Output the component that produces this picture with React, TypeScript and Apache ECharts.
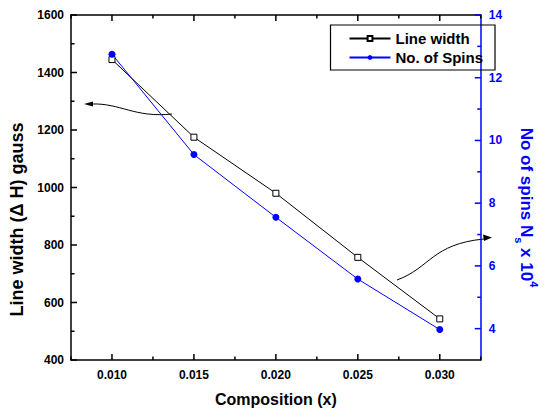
import React, { useEffect, useRef } from 'react';
import * as echarts from 'echarts';

const composition = [0.01, 0.015, 0.02, 0.025, 0.03];
const lineWidthGauss = [1445, 1175, 980, 757, 543];
const noOfSpins = [12.75, 9.55, 7.55, 5.58, 3.97];
const xMajorTicks = [0.01, 0.015, 0.02, 0.025, 0.03];
const xMinorTicks = [0.0075, 0.0125, 0.0175, 0.0225, 0.0275, 0.0325];
const leftMajorTicks = [400, 600, 800, 1000, 1200, 1400, 1600];
const leftMinorTicks = [500, 700, 900, 1100, 1300, 1500];
const rightMajorTicks = [4, 6, 8, 10, 12, 14];
const rightMinorTicks = [5, 7, 9, 11, 13];

const X_MIN = 0.0075;
const X_MAX = 0.0325;
const L_MIN = 400;
const L_MAX = 1600;
const R_MIN = 3;
const R_MAX = 14;

const FONT = '"Liberation Sans", Arial, sans-serif';
const BLUE = '#0000ff';

export default function App() {
  const ref = useRef<HTMLDivElement>(null);
  useEffect(() => {
    if (!ref.current) return;
    const chart = echarts.init(ref.current, undefined, { renderer: 'svg' });
    const labelStyle = { color: '#000', fontWeight: 'bold', fontSize: 12, fontFamily: FONT };
    const MAJOR = 6;
    const MINOR = 3.5;

    const arrows = [
      {
        type: 'bezierCurve',
        shape: { x1: 172, y1: 114, x2: 92, y2: 104, cpx1: 135, cpy1: 118, cpx2: 120, cpy2: 103 },
        style: { stroke: '#000', lineWidth: 1, fill: null },
      },
      {
        type: 'polygon',
        shape: { points: [[84, 104], [93, 101.5], [93, 106.5]] },
        style: { fill: '#000' },
      },
      {
        type: 'bezierCurve',
        shape: { x1: 397, y1: 280, x2: 484, y2: 239, cpx1: 430, cpy1: 268, cpx2: 432, cpy2: 244 },
        style: { stroke: '#000', lineWidth: 1, fill: null },
      },
      {
        type: 'polygon',
        shape: { points: [[492, 237.5], [483, 234.5], [484, 241]] },
        style: { fill: '#000' },
      },
    ];

    chart.setOption({
      animation: false,
      backgroundColor: '#fff',
      grid: { left: 70, right: 50, top: 15, bottom: 50 },
      legend: {
        orient: 'vertical',
        right: 52,
        top: 25,
        itemWidth: 41,
        itemHeight: 6,
        itemGap: 4,
        padding: [6, 12, 5, 18],
        borderColor: '#000',
        borderWidth: 1.2,
        textStyle: { fontSize: 15, lineHeight: 15, fontWeight: 'bold', color: '#000', fontFamily: FONT },
        data: ['Line width', 'No. of Spins'],
      },
      xAxis: [
        {
          type: 'value',
          min: X_MIN,
          max: X_MAX,
          position: 'bottom',
          splitLine: { show: false },
          axisLine: { show: true, lineStyle: { color: '#000', width: 1.5 } },
          axisTick: { show: false },
          axisLabel: { ...labelStyle, customValues: xMajorTicks, margin: 9, formatter: (v: number) => v.toFixed(3) },
          name: 'Composition (x)',
          nameLocation: 'middle',
          nameGap: 31,
          nameTextStyle: { color: '#000', fontWeight: 'bold', fontSize: 16, fontFamily: FONT },
        },
        {
          type: 'value',
          min: X_MIN,
          max: X_MAX,
          position: 'top',
          splitLine: { show: false },
          axisLine: { show: true, lineStyle: { color: '#000', width: 1.5 } },
          axisTick: { show: false },
          axisLabel: { show: false },
        },
      ],
      yAxis: [
        {
          type: 'value',
          position: 'left',
          min: L_MIN,
          max: L_MAX,
          interval: 200,
          splitLine: { show: false },
          axisLine: { show: true, lineStyle: { color: '#000', width: 1.5 } },
          axisTick: { show: false },
          axisLabel: { ...labelStyle, margin: 7, formatter: (v: number) => String(v) },
          name: 'Line width (Δ H) gauss',
          nameLocation: 'middle',
          nameRotate: 90,
          nameGap: 45,
          nameTextStyle: { color: '#000', fontWeight: 'bold', fontSize: 18, fontFamily: FONT, padding: [0, 64, 0, 0] },
        },
        {
          type: 'value',
          position: 'right',
          min: R_MIN,
          max: R_MAX,
          splitLine: { show: false },
          axisLine: { show: true, lineStyle: { color: BLUE, width: 1.5 } },
          axisTick: { show: false },
          axisLabel: { ...labelStyle, color: BLUE, margin: 8, customValues: rightMajorTicks },
          name: '{a|No of spins N}{s|s}{a| x 10}{p|4}',
          nameLocation: 'middle',
          nameRotate: -90,
          nameGap: 30,
          nameTextStyle: {
            padding: [0, 0, 0, 40],
            rich: {
              a: { color: BLUE, fontWeight: 'bold', fontSize: 17, fontFamily: FONT, lineHeight: 26, verticalAlign: 'middle' },
              s: { color: BLUE, fontWeight: 'bold', fontSize: 11, fontFamily: FONT, lineHeight: 26, verticalAlign: 'bottom' },
              p: { color: BLUE, fontWeight: 'bold', fontSize: 11, fontFamily: FONT, lineHeight: 26, verticalAlign: 'top' },
            },
          },
        },
      ],
      series: [
        {
          name: 'Line width',
          type: 'line',
          xAxisIndex: 0,
          yAxisIndex: 0,
          z: 3,
          data: composition.map((x, i) => [x, lineWidthGauss[i]]),
          symbol: 'rect',
          symbolSize: 6,
          itemStyle: { color: '#fff', borderColor: '#000', borderWidth: 1 },
          lineStyle: { color: '#000', width: 1 },
        },
        {
          name: 'No. of Spins',
          type: 'line',
          xAxisIndex: 0,
          yAxisIndex: 1,
          z: 3,
          data: composition.map((x, i) => [x, noOfSpins[i]]),
          symbol: 'circle',
          symbolSize: 7,
          itemStyle: { color: BLUE },
          lineStyle: { color: BLUE, width: 1 },
        },
      ],
      graphic: arrows,
    });

    const px = (v: number) => Number(chart.convertToPixel({ xAxisIndex: 0 }, v));
    const pyL = (v: number) => Number(chart.convertToPixel({ yAxisIndex: 0 }, v));
    const pyR = (v: number) => Number(chart.convertToPixel({ yAxisIndex: 1 }, v));
    const yBottom = pyL(L_MIN);
    const yTop = pyL(L_MAX);
    const xLeft = px(X_MIN);
    const xRight = px(X_MAX);
    const black = { stroke: '#000', lineWidth: 1.5 };
    const blue = { stroke: BLUE, lineWidth: 1.5 };
    const tickLines: any[] = [];
    const addX = (v: number, len: number) => {
      const x = px(v);
      tickLines.push({ type: 'line', z: 100, silent: true, shape: { x1: x, y1: yBottom, x2: x, y2: yBottom - len }, style: black });
      tickLines.push({ type: 'line', z: 100, silent: true, shape: { x1: x, y1: yTop, x2: x, y2: yTop + len }, style: black });
    };
    xMajorTicks.forEach((v) => addX(v, MAJOR));
    xMinorTicks.forEach((v) => addX(v, MINOR));
    const addL = (v: number, len: number) => {
      const y = pyL(v);
      tickLines.push({ type: 'line', z: 100, silent: true, shape: { x1: xLeft, y1: y, x2: xLeft + len, y2: y }, style: black });
    };
    leftMajorTicks.forEach((v) => addL(v, MAJOR));
    leftMinorTicks.forEach((v) => addL(v, MINOR));
    const addR = (v: number, len: number) => {
      const y = pyR(v);
      tickLines.push({ type: 'line', z: 100, silent: true, shape: { x1: xRight, y1: y, x2: xRight - len, y2: y }, style: blue });
    };
    rightMajorTicks.forEach((v) => addR(v, MAJOR));
    rightMinorTicks.forEach((v) => addR(v, MINOR));

    chart.setOption({ graphic: [...arrows, ...tickLines] });

    return () => chart.dispose();
  }, []);
  return <div ref={ref} style={{ position: 'absolute', left: 0, top: 0, width: 547, height: 412 }} />;
}
